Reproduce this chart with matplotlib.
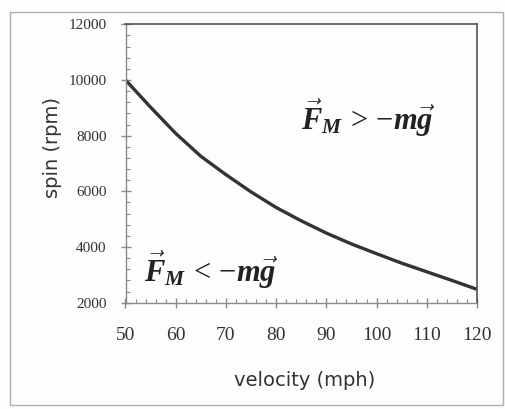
import matplotlib
matplotlib.use('Agg')
import matplotlib.pyplot as plt
from matplotlib.ticker import MultipleLocator
from matplotlib.patches import Rectangle

# curve
velocity = [50, 55, 60, 65, 70, 75, 80, 85, 90, 95, 100, 105, 110, 115, 120]
spin = [10000, 9020, 8080, 7260, 6600, 5980, 5420, 4940, 4500, 4110, 3760, 3420, 3110, 2800, 2480]

x_ticks = [50, 60, 70, 80, 90, 100, 110, 120]
y_ticks = [2000, 4000, 6000, 8000, 10000, 12000]

plt.rcParams['mathtext.fontset'] = 'custom'
plt.rcParams['mathtext.it'] = 'Liberation Serif:bold:italic'
plt.rcParams['mathtext.rm'] = 'Liberation Serif'
plt.rcParams['mathtext.bf'] = 'Liberation Serif:bold'

W, H = 505, 409
fig = plt.figure(figsize=(W / 100, H / 100), dpi=100)
fig.patch.set_facecolor('#fdfdfd')

# outer frame
fig.add_artist(Rectangle((10 / W, 1 - 405 / H), (503 - 10) / W, (405 - 12) / H,
                         transform=fig.transFigure, fill=False,
                         edgecolor='#b0b0b0', linewidth=1.0))

left, right, top, bottom = 125.5, 477, 24.3, 302.7
ax = fig.add_axes([left / W, 1 - bottom / H, (right - left) / W, (bottom - top) / H])
ax.set_facecolor('none')

ax.plot(velocity, spin, color='#333333', linewidth=2.4, solid_capstyle='round',
        solid_joinstyle='round')

ax.set_xlim(50, 120)
ax.set_ylim(2000, 12000)
ax.set_xticks(x_ticks)
ax.set_yticks(y_ticks)
ax.xaxis.set_minor_locator(MultipleLocator(2))
ax.yaxis.set_minor_locator(MultipleLocator(400))

for side in ['left', 'bottom']:
    ax.spines[side].set_color('#8a8a8a')
    ax.spines[side].set_linewidth(1.0)
for side in ['top', 'right']:
    ax.spines[side].set_color('#555555')
    ax.spines[side].set_linewidth(1.2)

ax.tick_params(axis='both', which='major', direction='inout', length=7,
               color='#8a8a8a', width=1.0)
ax.tick_params(axis='both', which='minor', direction='in', length=3,
               color='#8a8a8a', width=0.8)
ax.tick_params(axis='x', which='major', pad=14, labelsize=14)
ax.tick_params(axis='y', which='major', pad=10, labelsize=11)
for lab in ax.get_xticklabels() + ax.get_yticklabels():
    lab.set_fontfamily('Liberation Serif')
    lab.set_color('#333333')

fig.text(305 / W, 1 - 380 / H, 'velocity (mph)', ha='center', va='center',
         fontsize=14, color='#333333', family='DejaVu Sans')
fig.text(52 / W, 1 - 148 / H, 'spin (rpm)', ha='center', va='center',
         rotation=90, fontsize=14, color='#333333', family='DejaVu Sans')

ax.text(98.3, 8634, r'$\vec{F}_M\,>\,{-}m\vec{g}$', ha='center', va='center',
        fontsize=22, color='#222222')
ax.text(67.0, 3175, r'$\vec{F}_M\,<\,{-}m\vec{g}$', ha='center', va='center',
        fontsize=22, color='#222222')

fig.savefig('out.png', dpi=100, facecolor=fig.get_facecolor())
